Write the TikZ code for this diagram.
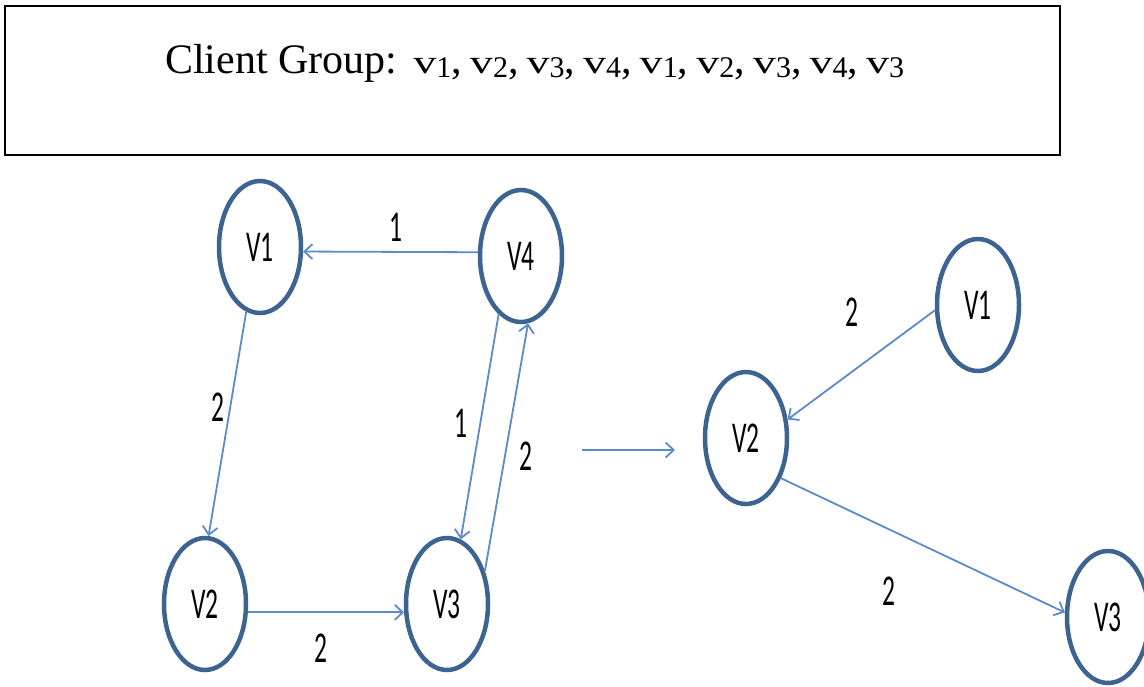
\documentclass[tikz,border=0pt]{standalone}
\usepackage{fontspec}
\setmainfont{Liberation Serif}
\newfontfamily\lblfont{Carlito}
\usetikzlibrary{shapes.geometric,arrows.meta}
\definecolor{nodeblue}{HTML}{3D6391}
\definecolor{edgeblue}{HTML}{5B8BC9}
\newcommand{\nm}[1]{\scalebox{0.58}[1]{#1}}
\newcommand{\cv}[1]{\scalebox{1.4}[1]{\fontsize{33}{33}\selectfont v}\raisebox{-4pt}{\fontsize{30}{30}\selectfont #1}}
\newcommand{\sepv}{,\hspace{8pt}}
\begin{document}
\begin{tikzpicture}[x=1pt, y=-1pt, >={Straight Barb[length=8pt,width=15pt]},
  vtx/.style={ellipse, draw=nodeblue, line width=4.5pt, minimum width=82pt,
    minimum height=132pt, inner sep=0pt, font=\lblfont\fontsize{44}{44}\selectfont},
  wt/.style={font=\lblfont\fontsize{44}{44}\selectfont, inner sep=0pt},
  link/.style={->, draw=edgeblue, line width=1.8pt}]
  \useasboundingbox (0,0) rectangle (1144,686);
  % client group box
  \node[draw, line width=2pt, minimum width=1055pt, minimum height=149pt, inner sep=0pt] (groupbox) at (532.5,80.5) {};
  \node[anchor=base west, inner sep=0pt, font=\fontsize{42}{42}\selectfont] (grouptxt) at (165,73)
    {Client Group:\hspace{16pt}\cv{1}\sepv\cv{2}\sepv\cv{3}\sepv\cv{4}\sepv\cv{1}\sepv\cv{2}\sepv\cv{3}\sepv\cv{4}\sepv\cv{3}};
  % left graph
  \node[vtx] (l1) at (260,247) {\nm{V1}};
  \node[vtx] (l4) at (521,256) {\nm{V4}};
  \node[vtx] (l2) at (205,604) {\nm{V2}};
  \node[vtx] (l3) at (447,604) {\nm{V3}};
  \draw[link] (l4.175) -- (l1.-6);
  \draw[link] (l1.-102) -- (l2.87);
  \draw[link] (l4.-111) -- (l3.78);
  \draw[link] (l3.41) -- (l4.-84);
  \draw[link] (l2.-11) -- (l3.-169);
  \node[wt] (w41) at (396,227) {\nm{1}};
  \node[wt] (w12) at (218,407) {\nm{2}};
  \node[wt] (w43) at (461,423) {\nm{1}};
  \node[wt] (w34) at (526,456) {\nm{2}};
  \node[wt] (w23) at (321,648) {\nm{2}};
  % transition
  \coordinate (tfrom) at (582,450);
  \coordinate (tto) at (675,450);
  \draw[link] (tfrom) -- (tto);
  % right graph
  \node[vtx] (r1) at (978,305) {\nm{V1}};
  \node[vtx] (r2) at (746,438) {\nm{V2}};
  \node[vtx] (r3) at (1108,617) {\nm{V3}};
  \draw[link] (r1.-173) -- (r2.24);
  \draw[link] (r2.-49) -- (r3.174);
  \node[wt] (w12r) at (852,312) {\nm{2}};
  \node[wt] (w23r) at (889,591) {\nm{2}};
\end{tikzpicture}
\end{document}
